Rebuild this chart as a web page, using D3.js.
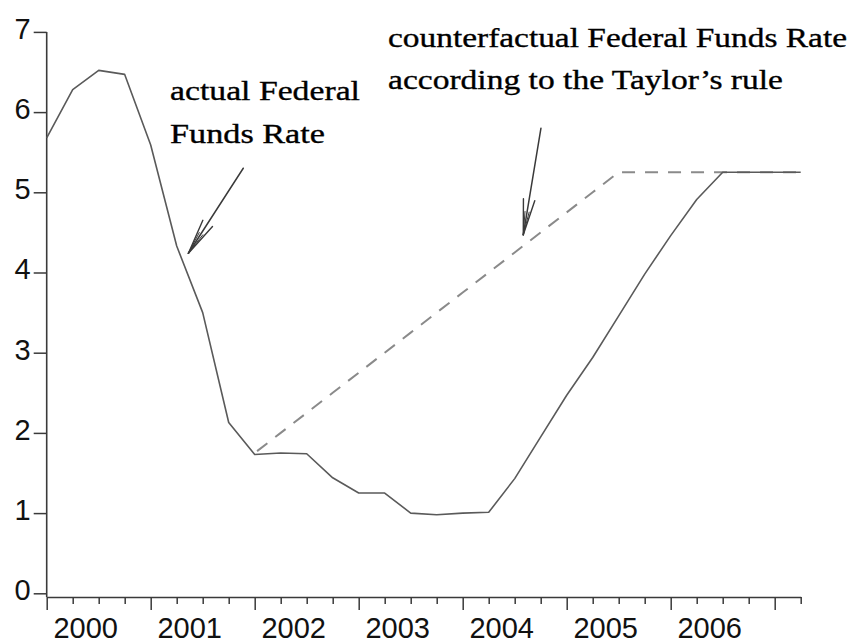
<!DOCTYPE html>
<html><head><meta charset="utf-8">
<script src="https://cdn.jsdelivr.net/npm/d3@7"></script>
<style>body{margin:0;background:#fff}svg{display:block}</style>
</head><body>
<svg id="c" width="852" height="643"></svg>
<script>
// ---- data ----
const quarters = ["2000Q1","2000Q2","2000Q3","2000Q4","2001Q1","2001Q2","2001Q3","2001Q4",
  "2002Q1","2002Q2","2002Q3","2002Q4","2003Q1","2003Q2","2003Q3","2003Q4",
  "2004Q1","2004Q2","2004Q3","2004Q4","2005Q1","2005Q2","2005Q3","2005Q4",
  "2006Q1","2006Q2","2006Q3","2006Q4","2007Q1","2007Q2"];
const actualRate = [5.68,6.28,6.52,6.47,5.59,4.33,3.50,2.13,
  1.73,1.75,1.74,1.44,1.25,1.25,1.00,0.98,
  1.00,1.01,1.43,1.95,2.47,2.94,3.46,3.98,
  4.46,4.91,5.25,5.25,5.25,5.25];
const taylorRate = [null,null,null,null,null,null,null,null,
  1.75,2.00,2.25,2.50,2.75,3.00,3.25,3.50,
  3.75,4.00,4.25,4.50,4.75,5.00,5.25,5.25,
  5.25,5.25,5.25,5.25,5.25,5.25];
const yTicks = [0,1,2,3,4,5,6,7];
const yearLabels = ["2000","2001","2002","2003","2004","2005","2006"];
const annotations = [
  {lines:["actual Federal","Funds Rate"], widths:[190,155], x:170, y:100,
   tail:[7.56,5.30], tip:[5.45,4.24]},
  {lines:["counterfactual Federal Funds Rate","according to the Taylor\u2019s rule"], widths:[459,395], x:388, y:46.7,
   tail:[19.01,5.80], tip:[18.33,4.47]}
];

// ---- chart ----
const svg = d3.select("#c");
const x = d3.scaleLinear().domain([0, quarters.length - 1]).range([46.7, 800.7]);
const y = d3.scaleLinear().domain([0, 7]).range([593.3, 31.9]);
const axisY = 597;
const axisColor = "#3a3a3a";

// x axis
const gx = svg.append("g").attr("transform", `translate(0,${axisY})`)
  .call(d3.axisBottom(x).tickValues(d3.range(quarters.length)).tickSizeOuter(0).tickFormat(""));
gx.select(".domain").attr("stroke", axisColor).attr("stroke-width", 1.6);
gx.selectAll(".tick line").attr("stroke", axisColor).attr("stroke-width", 1.5)
  .attr("y2", d => quarters[d].endsWith("Q1") ? 13 : 7);
gx.selectAll(".tick text").remove();
svg.append("g").selectAll("text").data(yearLabels).join("text")
  .attr("x", (d, i) => x(i * 4 + 1.5))
  .attr("y", axisY + 41)
  .attr("text-anchor", "middle")
  .attr("font-family", "Liberation Sans, Arial, sans-serif")
  .attr("font-size", 29)
  .attr("fill", "#111")
  .text(d => d);

// y axis
const gy = svg.append("g").attr("transform", `translate(${x(0)},0)`)
  .call(d3.axisLeft(y).tickValues(yTicks).tickSize(13).tickPadding(3).tickFormat(d3.format("d")));
gy.select(".domain").remove();
gy.selectAll(".tick line").attr("stroke", axisColor).attr("stroke-width", 1.5);
gy.selectAll(".tick text")
  .attr("font-family", "Liberation Sans, Arial, sans-serif")
  .attr("font-size", 29).attr("fill", "#111").attr("dy", "0.22em");
svg.append("line").attr("x1", x(0)).attr("x2", x(0)).attr("y1", y(7)).attr("y2", axisY)
  .attr("stroke", axisColor).attr("stroke-width", 1.6);

// lines
const lineGen = d3.line().defined(d => d != null).x((d, i) => x(i)).y(d => y(d));
svg.append("path").datum(taylorRate).attr("d", lineGen)
  .attr("fill", "none").attr("stroke", "#8a8a8a").attr("stroke-width", 2)
  .attr("stroke-dasharray", "13,10").attr("stroke-dashoffset", 20);
svg.append("path").datum(actualRate).attr("d", lineGen)
  .attr("fill", "none").attr("stroke", "#5a5a5a").attr("stroke-width", 1.6)
  .attr("stroke-linejoin", "round");

// annotations
annotations.forEach(a => {
  const t = svg.append("text")
    .attr("font-family", "Liberation Serif, Times New Roman, serif")
    .attr("font-size", 28).attr("fill", "#000")
    .attr("stroke", "#000").attr("stroke-width", 0.35);
  a.lines.forEach((ln, i) => {
    t.append("tspan").attr("x", a.x).attr("y", a.y + i * 42.5)
      .attr("textLength", a.widths[i]).attr("lengthAdjust", "spacingAndGlyphs").text(ln);
  });
  const x1 = x(a.tail[0]), y1 = y(a.tail[1]), x2 = x(a.tip[0]), y2 = y(a.tip[1]);
  const g = svg.append("g").attr("stroke", "#3a3a3a").attr("fill", "none").attr("stroke-linecap", "round");
  g.append("line").attr("x1", x1).attr("y1", y1).attr("x2", x2).attr("y2", y2).attr("stroke-width", 1.5);
  const ang = Math.atan2(y1 - y2, x1 - x2);
  const len = Math.hypot(x1 - x2, y1 - y2) > 100 ? 36 : 30;
  [-0.16, 0.16, -0.09, 0.09].forEach((da, k) => {
    const L = k < 2 ? len : len * 0.65;
    g.append("line").attr("x1", x2).attr("y1", y2)
      .attr("x2", x2 + L * Math.cos(ang + da)).attr("y2", y2 + L * Math.sin(ang + da))
      .attr("stroke-width", k < 2 ? 1.4 : 1);
  });
});
</script>
</body></html>
